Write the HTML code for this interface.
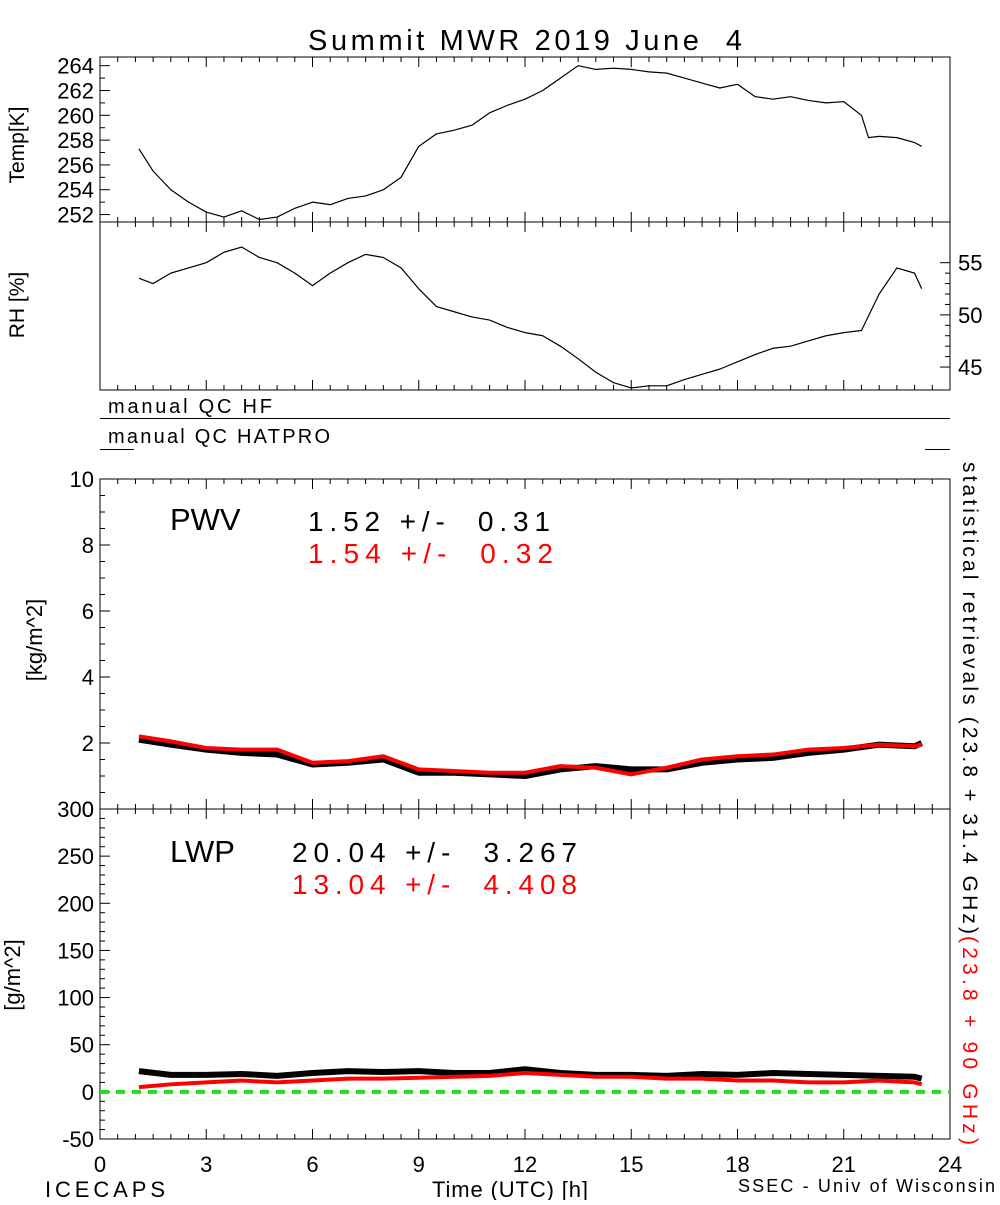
<!DOCTYPE html>
<html><head><meta charset="utf-8"><style>
body{margin:0;background:#fff}
svg text{font-family:"Liberation Sans",sans-serif}
</style></head><body>
<svg id="c" width="1000" height="1200" xmlns="http://www.w3.org/2000/svg">
<text x="308" y="50" font-size="29" textLength="434" lengthAdjust="spacing" xml:space="preserve">Summit MWR 2019 June  4</text>
<g id="g"></g>
<text x="108" y="413" font-size="20" textLength="164" lengthAdjust="spacing">manual QC HF</text>
<line x1="100" y1="418.5" x2="950" y2="418.5" stroke="#000"/>
<text x="108" y="443" font-size="20" textLength="222" lengthAdjust="spacing">manual QC HATPRO</text>
<line x1="100" y1="449.5" x2="134" y2="449.5" stroke="#000"/>
<line x1="925" y1="449.5" x2="950" y2="449.5" stroke="#000"/>
<text transform="translate(24,145) rotate(-90)" font-size="21" text-anchor="middle">Temp[K]</text>
<text transform="translate(24,305) rotate(-90)" font-size="21" text-anchor="middle">RH [%]</text>
<text transform="translate(42,640) rotate(-90)" font-size="22" text-anchor="middle">[kg/m^2]</text>
<text transform="translate(20,975) rotate(-90)" font-size="22" text-anchor="middle">[g/m^2]</text>
<text x="170" y="530" font-size="31">PWV</text>
<text x="308" y="531" font-size="28" textLength="242" lengthAdjust="spacing" xml:space="preserve">1.52 +/-  0.31</text>
<text x="308" y="563" font-size="28" fill="#f00" textLength="245" lengthAdjust="spacing" xml:space="preserve">1.54 +/-  0.32</text>
<text x="170" y="862" font-size="31">LWP</text>
<text x="292" y="862" font-size="28" textLength="285" lengthAdjust="spacing" xml:space="preserve">20.04 +/-  3.267</text>
<text x="292" y="894" font-size="28" fill="#f00" textLength="285" lengthAdjust="spacing" xml:space="preserve">13.04 +/-  4.408</text>
<text transform="translate(963,462) rotate(90)" font-size="21" textLength="472" lengthAdjust="spacing">statistical retrievals (23.8 + 31.4 GHz)</text>
<text transform="translate(963,936) rotate(90)" font-size="21" fill="#f00" textLength="209" lengthAdjust="spacing">(23.8 + 90 GHz)</text>
<text x="432" y="1197" font-size="22" textLength="156" lengthAdjust="spacing">Time (UTC) [h]</text>
<text x="45" y="1197" font-size="22" textLength="120" lengthAdjust="spacing">ICECAPS</text>
<text x="738" y="1192" font-size="18" textLength="257" lengthAdjust="spacing">SSEC - Univ of Wisconsin</text>
</svg>
<script>
const tempT=[1.1,1.5,2,2.5,3,3.5,4,4.5,5,5.5,6,6.5,7,7.5,8,8.5,9,9.5,10,10.5,11,11.5,12,12.5,13,13.5,14,14.5,15,15.5,16,16.5,17,17.5,18,18.5,19,19.5,20,20.5,21,21.5,21.7,22,22.5,23,23.2];
const tempV=[257.3,255.5,254,253,252.2,251.8,252.3,251.6,251.8,252.5,253,252.8,253.3,253.5,254,255,257.5,258.5,258.8,259.2,260.2,260.8,261.3,262,263,264,263.7,263.8,263.7,263.5,263.4,263,262.6,262.2,262.5,261.5,261.3,261.5,261.2,261,261.1,260,258.2,258.3,258.2,257.8,257.5];
const rhT=[1.1,1.5,2,2.5,3,3.5,4,4.5,5,5.5,6,6.5,7,7.5,8,8.5,9,9.5,10,10.5,11,11.5,12,12.5,13,13.5,14,14.5,15,15.5,16,16.5,17,17.5,18,18.5,19,19.5,20,20.5,21,21.5,22,22.5,23,23.2];
const rhV=[53.5,53,54,54.5,55,56,56.5,55.5,55,54,52.8,54,55,55.8,55.5,54.5,52.5,50.8,50.3,49.8,49.5,48.8,48.3,48,47,45.8,44.5,43.5,43,43.2,43.2,43.8,44.3,44.8,45.5,46.2,46.8,47,47.5,48,48.3,48.5,52,54.5,54,52.5];
const hrT=[1.1,2,3,4,5,6,7,8,9,10,11,12,13,14,15,16,17,18,19,20,21,22,23,23.2];
const pwvBlack=[2.1,1.95,1.8,1.7,1.65,1.35,1.4,1.5,1.1,1.1,1.05,1.0,1.2,1.3,1.2,1.2,1.4,1.5,1.55,1.7,1.8,1.95,1.9,2.0];
const pwvRed=[2.2,2.05,1.85,1.8,1.8,1.4,1.45,1.6,1.2,1.15,1.1,1.1,1.3,1.25,1.05,1.25,1.5,1.6,1.65,1.8,1.85,1.95,1.9,1.95];
const lwpBlack=[22,18,18,19,17,20,22,21,22,20,20,24,20,18,18,17,19,18,20,19,18,17,16,14];
const lwpRed=[5,8,10,12,10,12,14,14,15,16,17,20,18,16,16,14,14,12,12,10,10,12,10,8];
const xTicks=[0,3,6,9,12,15,18,21,24];
const tempTicks=[252,254,256,258,260,262,264];
const rhTicks=[45,50,55];
const pwvTicks=[0,2,4,6,8,10];
const lwpTicks=[-50,0,50,100,150,200,250,300];

const NS="http://www.w3.org/2000/svg",G=document.getElementById('g');
const X=h=>100+h*850/24;
function lin(d0,d1,p0,p1){return v=>p0+(v-d0)*(p1-p0)/(d1-d0);}
const yT=lin(251.4,264.7,222,57),yR=lin(42.8,58.9,390,222),yP=lin(0,10,809,479),yL=lin(-50,300,1139,809);
function el(t,a){const e=document.createElementNS(NS,t);for(const k in a)e.setAttribute(k,a[k]);G.appendChild(e);return e;}
function box(y0,y1,name){const r=el('rect',{x:100,y:y0,width:850,height:y1-y0,fill:'none',stroke:'#000'});


for(let h=0;h<=24;h+=0.5){const L=(h%3===0)?10:5;
el('line',{x1:X(h),x2:X(h),y1:y1,y2:y1-L,stroke:'#000'});el('line',{x1:X(h),x2:X(h),y1:y0,y2:y0+L,stroke:'#000'});}}
function yticks(ticks,ys,side,name,minor){ticks.forEach((v,i)=>{const y=ys(v);
const xe=side==='l'?100:950,d=side==='l'?1:-1;
el('line',{x1:xe,x2:xe+d*10,y1:y,y2:y,stroke:'#000'});
const t=el('text',{x:side==='l'?94:958,y:y+8,'font-size':22,'text-anchor':side==='l'?'end':'start'});t.textContent=v;


if(i<ticks.length-1){const s=(ticks[i+1]-v)/minor;for(let k=1;k<minor;k++){const yy=ys(v+k*s);el('line',{x1:xe,x2:xe+d*5,y1:yy,y2:yy,stroke:'#000'});}}});}
function line(ts,vs,ys,col,w,name){const p=el('polyline',{points:ts.map((t,i)=>X(t)+','+ys(vs[i])).join(' '),fill:'none',stroke:col,'stroke-width':w,'stroke-linejoin':'round'});

}
box(57,222,'temp-panel');box(222,390,'rh-panel');box(479,809,'pwv-panel');box(809,1139,'lwp-panel');
yticks(tempTicks,yT,'l','temp-tick-label',2);yticks(rhTicks,yR,'r','rh-tick-label',5);
yticks(pwvTicks,yP,'l','pwv-tick-label',4);yticks(lwpTicks,yL,'l','lwp-tick-label',5);
xTicks.forEach(h=>{const t=el('text',{x:X(h),y:1172,'font-size':22,'text-anchor':'middle'});t.textContent=h;

});
const z=el('line',{x1:100,x2:950,y1:yL(0),y2:yL(0),stroke:'#22dd22','stroke-width':4,'stroke-dasharray':'9,7'});


line(tempT,tempV,yT,'#000',1.2,'temp-series');
line(rhT,rhV,yR,'#000',1.2,'rh-series');
line(hrT,pwvBlack,yP,'#000',6,'pwv-black-series');
line(hrT,pwvRed,yP,'#f00',4,'pwv-red-series');
line(hrT,lwpBlack,yL,'#000',6,'lwp-black-series');
line(hrT,lwpRed,yL,'#f00',4,'lwp-red-series');
</script>
</body></html>
